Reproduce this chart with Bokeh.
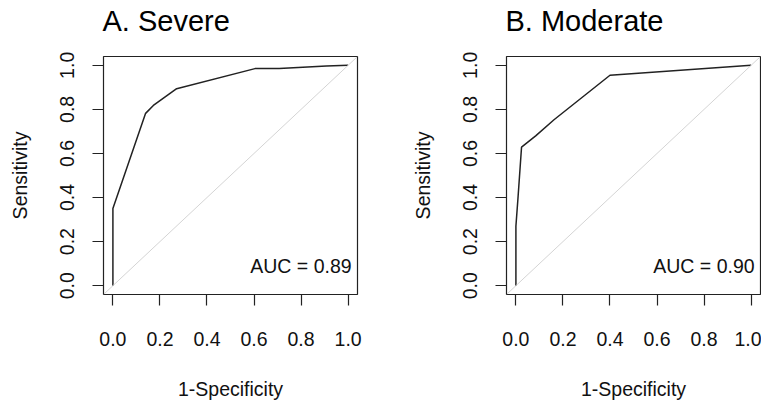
from bokeh.plotting import figure
from bokeh.layouts import row
from bokeh.models import Range1d, Slope, Label, FixedTicker, Title
from bokeh.embed import file_html
from bokeh.resources import INLINE

# ROC data (x = 1-Specificity, y = Sensitivity)
severe_fpr = [0.0, 0.0, 0.139, 0.172, 0.271, 0.604, 0.707, 0.908, 1.0]
severe_tpr = [0.0, 0.35, 0.782, 0.818, 0.894, 0.985, 0.986, 0.997, 1.0]
severe_auc = "0.89"

moderate_fpr = [0.0, 0.0, 0.009, 0.024, 0.084, 0.162, 0.40, 1.0]
moderate_tpr = [0.0, 0.27, 0.40, 0.629, 0.68, 0.753, 0.955, 1.0]
moderate_auc = "0.90"

ticks = [0.0, 0.2, 0.4, 0.6, 0.8, 1.0]
tick_labels = {t: f"{t:.1f}" for t in ticks}

FONT = "Liberation Sans"
FS = "19.5px"


def make_panel(title, fpr, tpr, auc, width, border_left, border_right):
    p = figure(width=width, height=402, output_backend="svg", toolbar_location=None,
               x_range=Range1d(-0.04, 1.04), y_range=Range1d(-0.04, 1.04),
               min_border_left=border_left, min_border_right=border_right,
               min_border_top=56, min_border_bottom=99)
    # spacer between frame and title
    p.add_layout(Title(text=" ", text_font_size="1px", standoff=17), "above")
    p.title.text = title
    p.title.text_font = FONT
    p.title.text_font_size = "29px"
    p.title.text_font_style = "normal"
    p.title.align = "left"
    p.title.vertical_align = "bottom"
    p.title.standoff = 0
    p.title.text_color = "black"
    p.title.offset = -1
    p.grid.visible = False
    p.outline_line_color = "#222222"
    p.outline_line_width = 1.2
    p.background_fill_color = "white"
    p.border_fill_color = "white"

    for ax in (p.xaxis[0], p.yaxis[0]):
        ax.ticker = FixedTicker(ticks=ticks)
        ax.major_label_overrides = tick_labels
        ax.axis_line_color = None
        ax.major_tick_in = 0
        ax.major_tick_out = 11
        ax.major_tick_line_color = "#222222"
        ax.major_tick_line_width = 1.2
        ax.minor_tick_line_color = None
        ax.major_label_text_font = FONT
        ax.major_label_text_font_size = FS
        ax.major_label_text_color = "#111111"
        ax.axis_label_text_font = FONT
        ax.axis_label_text_font_size = FS
        ax.axis_label_text_font_style = "normal"
        ax.axis_label_text_color = "#111111"
    p.xaxis.axis_label = "1-Specificity"
    p.yaxis.axis_label = "Sensitivity"
    p.xaxis.major_label_standoff = 26
    p.xaxis.axis_label_standoff = 29
    p.yaxis.major_label_orientation = "vertical"
    p.yaxis.major_label_standoff = 18
    p.yaxis.axis_label_standoff = 27

    p.add_layout(Slope(gradient=1, y_intercept=0, line_color="#d4d4d4", line_width=1))
    p.line(fpr, tpr, line_color="#222222", line_width=1.5)
    p.add_layout(Label(x=1.015, y=0.09, text=f"AUC = {auc}", text_align="right",
                       text_baseline="middle", text_font=FONT, text_font_size=FS,
                       text_color="#111111"))
    return p


pa = make_panel("A. Severe", severe_fpr, severe_tpr, severe_auc, 392, 103, 35)
pb = make_panel("B. Moderate", moderate_fpr, moderate_tpr, moderate_auc, 369, 114, 1)

layout = row(pa, pb)
open("out.html", "w").write(file_html(layout, INLINE))
